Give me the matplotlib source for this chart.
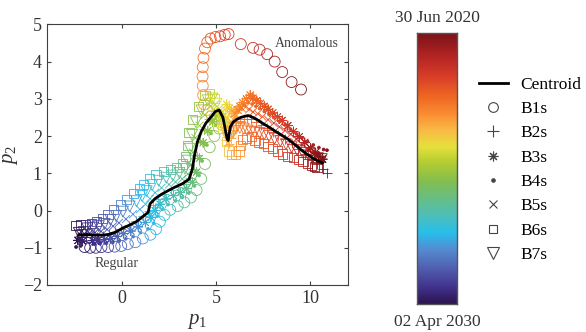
import numpy as np
import matplotlib
matplotlib.use("Agg")
import matplotlib.pyplot as plt
from matplotlib.colors import LinearSegmentedColormap
from matplotlib.lines import Line2D

plt.rcParams['font.family'] = ['Liberation Serif', 'DejaVu Serif']
plt.rcParams['mathtext.fontset'] = 'custom'
plt.rcParams['mathtext.rm'] = 'Liberation Serif'
plt.rcParams['mathtext.it'] = 'Liberation Serif:italic'

# ---------------- data ----------------
date_top = "30 Jun 2020"
date_bottom = "02 Apr 2030"
# relative position of each observation on the colour bar (0 = 02 Apr 2030, 1 = 30 Jun 2020)
time_frac = [0.0, 0.023, 0.047, 0.07, 0.093, 0.116, 0.14, 0.163, 0.186, 0.209, 0.233, 0.256, 0.275,
             0.295, 0.315, 0.335, 0.355, 0.375, 0.395, 0.415, 0.435, 0.45, 0.465, 0.48, 0.5, 0.53,
             0.56, 0.59, 0.61, 0.63, 0.65, 0.67, 0.69, 0.705, 0.72, 0.735, 0.75, 0.762, 0.774, 0.786,
             0.798, 0.81, 0.825, 0.84, 0.855, 0.87, 0.89, 0.91, 0.93, 0.95, 0.97, 0.99]

centroid_x = [-2.3, -2.02, -1.74, -1.4, -1.05, -0.7, -0.35, 0.0, 0.35, 0.75, 1.1, 1.38, 1.48, 1.75,
              2.1, 2.5, 2.85, 3.2, 3.55, 3.72, 3.85, 4.0, 4.2, 4.45, 4.7, 4.95, 5.15,
              5.35, 5.45, 5.52, 5.58, 5.63, 5.68, 5.75, 5.9, 6.1, 6.3, 6.5, 6.7, 6.95, 7.2, 7.5,
              7.8, 8.1, 8.45, 8.8, 9.15, 9.5, 9.85, 10.15, 10.4, 10.65]
centroid_y = [-0.65, -0.65, -0.65, -0.66, -0.66, -0.64, -0.58, -0.48, -0.4, -0.3, -0.16, -0.05, 0.18,
              0.32, 0.44, 0.55, 0.64, 0.72, 0.84, 1.1, 1.5, 1.85, 2.12, 2.35, 2.5, 2.66, 2.7,
              2.5, 2.25, 2.05, 1.92, 1.88, 2.05, 2.25, 2.38, 2.45, 2.5, 2.53, 2.55, 2.5, 2.43, 2.33,
              2.24, 2.14, 2.03, 1.92, 1.78, 1.63, 1.5, 1.4, 1.33, 1.28]

b1_x = [-2.0, -1.7, -1.4, -1.1, -0.75, -0.4, -0.05, 0.3, 0.7, 1.1, 1.5, 1.8, 2.0, 2.25, 2.55, 2.95,
        3.3, 3.65, 3.95, 4.2, 4.4, 4.65, 4.9, 5.15, 5.3, 5.45, 5.55,
        5.35, 5.05, 4.75, 4.5, 4.35, 4.3, 4.28, 4.27, 4.28, 4.32, 4.4, 4.52, 4.7, 4.95, 5.2, 5.45,
        5.65, 6.3, 6.95, 7.3, 7.7, 8.1, 8.5, 9.0, 9.5]
b1_y = [-0.98, -1.0, -1.0, -0.98, -0.98, -0.97, -0.95, -0.9, -0.85, -0.75, -0.65, -0.5, -0.3, -0.12,
        0.02, 0.12, 0.22, 0.35, 0.55, 0.85, 1.25, 1.7, 2.0, 2.2, 2.3, 2.35, 2.3,
        2.35, 2.45, 2.55, 2.7, 2.85, 3.1, 3.35, 3.6, 3.85, 4.1, 4.35, 4.52, 4.62, 4.66, 4.68, 4.72,
        4.74, 4.47, 4.37, 4.32, 4.2, 4.0, 3.72, 3.45, 3.25]

b2_x = [-2.2, -1.93, -1.65, -1.35, -1.02, -0.69, -0.37, -0.04, 0.34, 0.72, 1.1, 1.4, 1.62, 1.89, 2.21,
        2.61, 2.96, 3.31, 3.61, 3.79, 3.95, 4.12, 4.35, 4.62, 4.88, 5.06, 5.26,
        5.4, 5.5, 5.5, 5.6, 5.7, 5.8, 5.9, 6.05, 6.25, 6.45, 6.65, 6.85, 7.1, 7.4, 7.7, 8.0, 8.3,
        8.65, 9.0, 9.35, 9.7, 10.05, 10.35, 10.65, 10.9]
b2_y = [-0.72, -0.72, -0.72, -0.7, -0.67, -0.63, -0.57, -0.49, -0.4, -0.28, -0.16, -0.01, 0.15, 0.32,
        0.45, 0.54, 0.62, 0.71, 0.87, 1.12, 1.48, 1.88, 2.2, 2.47, 2.66, 2.71, 2.62,
        2.4, 2.15, 1.9, 1.75, 1.8, 1.95, 2.15, 2.3, 2.4, 2.45, 2.47, 2.45, 2.38, 2.3, 2.22, 2.12,
        2.02, 1.92, 1.8, 1.66, 1.52, 1.38, 1.25, 1.12, 1.0]

b3_x = [-2.35, -2.1, -1.57, -1.27, -0.93, -0.6, -0.26, 0.08, 0.46, 0.85, 1.23, 1.53, 1.75, 2.01, 2.33,
        2.73, 3.08, 3.43, 3.73, 3.95, 4.1, 4.3, 4.55, 4.8, 5.02, 5.2, 5.36,
        5.55, 5.7, 5.8, 5.95, 6.1, 6.25, 6.4, 6.6, 6.8, 6.95, 7.15, 7.35, 7.55, 7.75, 8.0, 8.25,
        8.5, 8.8, 9.1, 9.4, 9.7, 10.0, 10.25, 10.45, 10.65]
b3_y = [-0.8, -0.82, -0.81, -0.79, -0.78, -0.75, -0.7, -0.62, -0.55, -0.44, -0.32, -0.18, 0.0, 0.17,
        0.31, 0.4, 0.48, 0.59, 0.76, 1.03, 1.4, 1.82, 2.14, 2.38, 2.54, 2.59, 2.51,
        2.85, 2.75, 2.65, 2.6, 2.7, 2.8, 2.9, 3.0, 3.1, 3.02, 2.95, 2.88, 2.8, 2.72, 2.62, 2.52,
        2.42, 2.28, 2.12, 1.98, 1.83, 1.68, 1.55, 1.46, 1.38]

b4_x = [-2.45, -2.2, -1.48, -1.18, -0.84, -0.5, -0.16, 0.19, 0.58, 0.97, 1.37, 1.67, 1.87, 2.13, 2.44,
        2.84, 3.19, 3.54, 3.84, 4.08, 4.25, 4.5, 4.72, 4.95, 5.15, 5.3, 5.45,
        5.6, 5.7, 5.75, 5.85, 6.0, 6.15, 6.3, 6.5, 6.7, 6.9, 7.1, 7.3, 7.55, 7.8, 8.05, 8.35,
        8.65, 8.95, 9.25, 9.55, 9.85, 10.15, 10.45, 10.7, 10.88]
b4_y = [-0.98, -0.95, -0.9, -0.89, -0.88, -0.86, -0.82, -0.76, -0.7, -0.59, -0.49, -0.34, -0.15, 0.03,
        0.16, 0.26, 0.35, 0.47, 0.66, 0.94, 1.33, 1.76, 2.07, 2.29, 2.42, 2.47, 2.41,
        2.5, 2.35, 2.2, 2.3, 2.5, 2.65, 2.75, 2.85, 2.9, 2.86, 2.8, 2.74, 2.66, 2.58, 2.5, 2.4,
        2.3, 2.18, 2.06, 1.95, 1.85, 1.76, 1.69, 1.64, 1.62]

b5_x = [-2.28, -2.01, -1.74, -1.44, -1.12, -0.8, -0.48, -0.17, 0.2, 0.57, 0.94, 1.24, 1.47, 1.75, 2.09,
        2.49, 2.84, 3.19, 3.49, 3.65, 3.75, 3.89, 4.11, 4.39, 4.7, 4.94, 5.15,
        5.45, 5.55, 5.6, 5.7, 5.8, 5.9, 6.0, 6.15, 6.35, 6.55, 6.75, 6.95, 7.2, 7.45, 7.75, 8.05,
        8.35, 8.65, 8.95, 9.25, 9.55, 9.85, 10.1, 10.35, 10.6]
b5_y = [-0.62, -0.62, -0.61, -0.59, -0.56, -0.51, -0.42, -0.33, -0.23, -0.1, 0.03, 0.17, 0.32, 0.48,
        0.61, 0.7, 0.77, 0.85, 0.98, 1.22, 1.56, 1.95, 2.28, 2.57, 2.8, 2.85, 2.73,
        2.7, 2.5, 2.3, 2.2, 2.3, 2.45, 2.6, 2.7, 2.75, 2.78, 2.72, 2.65, 2.6, 2.52, 2.44, 2.35,
        2.25, 2.15, 2.05, 1.92, 1.78, 1.65, 1.55, 1.45, 1.38]

b6_x = [-2.45, -2.2, -1.95, -1.65, -1.35, -1.05, -0.75, -0.45, -0.1, 0.25, 0.6, 0.9, 1.15, 1.45, 1.8,
        2.2, 2.55, 2.9, 3.2, 3.35, 3.45, 3.55, 3.75, 4.05, 4.4, 4.65, 4.9,
        5.35, 5.55, 5.65, 5.8, 6.0, 6.2, 6.3, 6.4, 6.6, 6.85, 7.05, 7.25, 7.5, 7.75, 8.0, 8.25,
        8.5, 8.8, 9.1, 9.35, 9.6, 9.85, 10.05, 10.2, 10.35]
b6_y = [-0.4, -0.38, -0.37, -0.35, -0.3, -0.22, -0.1, 0.02, 0.15, 0.3, 0.45, 0.58, 0.7, 0.85, 0.97,
        1.05, 1.1, 1.15, 1.25, 1.45, 1.75, 2.1, 2.45, 2.8, 3.1, 3.15, 3.0,
        2.2, 1.85, 1.6, 1.5, 1.5, 1.6, 1.75, 1.9, 1.95, 1.98, 1.88, 1.83, 1.8, 1.72, 1.66, 1.6,
        1.52, 1.46, 1.42, 1.38, 1.32, 1.26, 1.22, 1.18, 1.15]

b7_x = [-2.3, -2.05, -1.85, -1.55, -1.24, -0.93, -0.62, -0.32, 0.04, 0.4, 0.76, 1.06, 1.3, 1.59, 1.94,
        2.34, 2.69, 3.04, 3.34, 3.49, 3.59, 3.71, 3.92, 4.21, 4.54, 4.79, 5.02,
        5.25, 5.4, 5.5, 5.6, 5.75, 5.9, 6.05, 6.25, 6.45, 6.65, 6.85, 7.05, 7.3, 7.55, 7.8, 8.1,
        8.4, 8.7, 9.0, 9.3, 9.6, 9.9, 10.15, 10.4, 10.6]
b7_y = [-0.6, -0.58, -0.48, -0.46, -0.42, -0.36, -0.25, -0.15, -0.03, 0.11, 0.25, 0.39, 0.52, 0.68,
        0.8, 0.88, 0.94, 1.01, 1.12, 1.34, 1.66, 2.03, 2.37, 2.69, 2.96, 3.01, 2.87,
        2.55, 2.3, 2.1, 1.95, 2.0, 2.1, 2.2, 2.22, 2.2, 2.15, 2.12, 2.1, 2.08, 2.05, 2.0, 1.93,
        1.86, 1.78, 1.7, 1.62, 1.55, 1.48, 1.44, 1.4, 1.38]

series_names = ["B1s", "B2s", "B3s", "B4s", "B5s", "B6s", "B7s"]
annot_regular = "Regular"
annot_anomalous = "Anomalous"

# ---------------- colormap ----------------
cmap_nodes = [
    (0.00, (45, 20, 80)), (0.06, (65, 50, 140)), (0.13, (80, 95, 175)), (0.20, (85, 140, 210)),
    (0.26, (40, 190, 235)), (0.32, (75, 190, 190)), (0.38, (100, 190, 140)), (0.45, (130, 190, 80)),
    (0.52, (180, 205, 50)), (0.58, (230, 225, 60)), (0.64, (250, 185, 70)), (0.70, (250, 140, 50)),
    (0.76, (240, 105, 35)), (0.84, (215, 60, 40)), (0.92, (175, 35, 35)), (1.00, (120, 18, 25)),
]
cmap = LinearSegmentedColormap.from_list(
    "traj", [(p, tuple(c / 255 for c in rgb)) for p, rgb in cmap_nodes])
colors = cmap(np.asarray(time_frac))

# ---------------- figure ----------------
fig = plt.figure(figsize=(5.86, 3.32), dpi=100)
ax = fig.add_axes([0.080, 0.1416, 0.514, 0.785])

styles = [
    dict(marker='o', s=62, hollow=True),
    dict(marker='+', s=50, hollow=False),
    dict(marker=(8, 2, 0), s=44, hollow=False),
    dict(marker='.', s=16, hollow=False),
    dict(marker='x', s=32, hollow=False),
    dict(marker='s', s=44, hollow=True),
    dict(marker='v', s=62, hollow=True),
]
xs = [b1_x, b2_x, b3_x, b4_x, b5_x, b6_x, b7_x]
ys = [b1_y, b2_y, b3_y, b4_y, b5_y, b6_y, b7_y]
for x, y, st in zip(xs, ys, styles):
    if st['hollow']:
        ax.scatter(x, y, s=st['s'], marker=st['marker'], facecolors='none',
                   edgecolors=colors, linewidths=0.6)
    else:
        ax.scatter(x, y, s=st['s'], marker=st['marker'], c=colors, linewidths=0.6)

ax.plot(centroid_x, centroid_y, color='black', lw=2.0, zorder=5)

ax.set_xlim(-4, 12)
ax.set_ylim(-2, 5)
ax.set_xticks([0, 5, 10])
ax.set_yticks(range(-2, 6))
ax.tick_params(direction='in', top=True, right=True, labelsize=13, colors='#404040',
               length=3, width=0.8, labelcolor='#333333')
for sp in ax.spines.values():
    sp.set_color('#404040')
    sp.set_linewidth(0.8)
ax.set_xlabel('$p_1$', fontsize=15, labelpad=4, color='#333333')
ax.set_ylabel('$p_2$', fontsize=15, labelpad=2, color='#333333')

ax.text(9.8, 4.48, annot_anomalous, fontsize=10, ha='center', va='center', color='#444444')
ax.text(-0.3, -1.42, annot_regular, fontsize=10, ha='center', va='center', color='#444444')

# ---------------- colorbar ----------------
cax = fig.add_axes([0.712, 0.0834, 0.068, 0.818])
grad = np.linspace(0, 1, 256).reshape(-1, 1)
cax.imshow(grad, aspect='auto', cmap=cmap, origin='lower', extent=[0, 1, 0, 1])
cax.set_xticks([])
cax.set_yticks([])
for sp in cax.spines.values():
    sp.set_color('#555555')
    sp.set_linewidth(1.0)
fig.text(0.746, 0.946, date_top, fontsize=12.5, ha='center', va='center', color='#333333')
fig.text(0.746, 0.030, date_bottom, fontsize=12.5, ha='center', va='center', color='#333333')

# ---------------- legend ----------------
handles = [Line2D([], [], color='black', lw=2.0)]
legend_styles = [('o', 7, 'none'), ('+', 8, None), ((8, 2, 0), 7, None), ('.', 5, None),
                 ('x', 6, None), ('s', 6, 'none'), ('v', 8, 'none')]
for mk, ms, fc in legend_styles:
    kw = dict(marker=mk, markersize=ms, linestyle='none', color='#444444', markeredgewidth=0.8)
    if fc is not None:
        kw['markerfacecolor'] = 'none'
    handles.append(Line2D([], [], **kw))
fig.legend(handles, ['Centroid'] + series_names, loc='upper left',
           bbox_to_anchor=(0.805, 0.79), frameon=False, fontsize=12.5,
           handlelength=1.7, handletextpad=0.7, labelspacing=0.47, borderaxespad=0)

fig.savefig('out.png', dpi=100)
